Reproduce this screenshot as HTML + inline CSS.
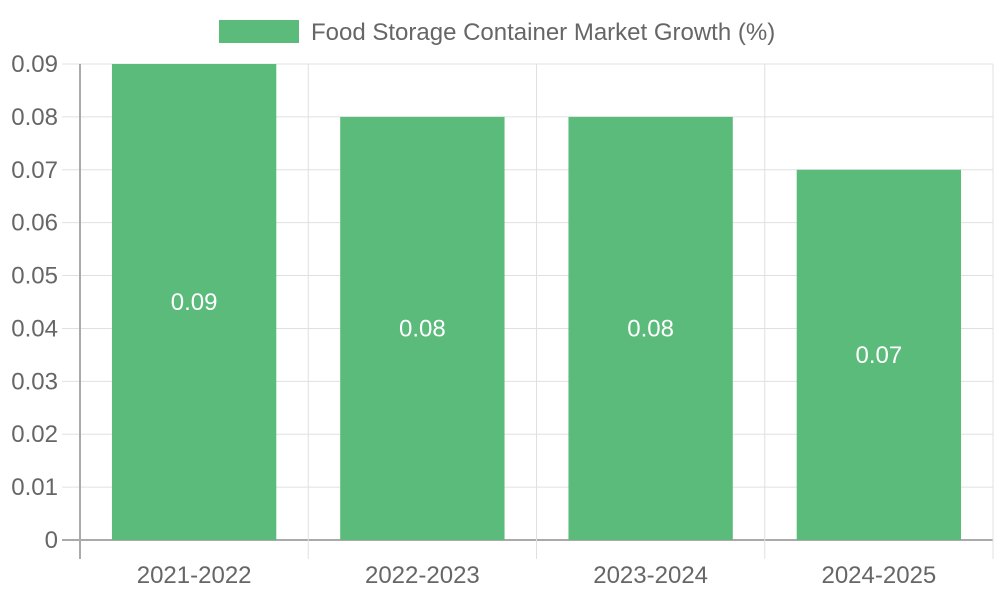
<!DOCTYPE html>
<html><head><meta charset="utf-8"><style>
html,body{margin:0;padding:0;background:#fff;}
svg{display:block;font-family:"Liberation Sans",sans-serif;}
</style></head><body>
<svg id="chart" width="1000" height="600">
  <g>
    <rect x="219" y="20" width="80" height="23" fill="#5bbb7b"/>
    <text x="311" y="40" font-size="24" fill="#666">Food Storage Container Market Growth (%)</text>
  </g>
  <g id="grid"></g>
  <g id="bars"></g>
  <g id="axes"></g>
</svg>
<script>
const categories = ["2021-2022","2022-2023","2023-2024","2024-2025"];
const growthValues = [0.09,0.08,0.08,0.07];
const yTicks = [0,0.01,0.02,0.03,0.04,0.05,0.06,0.07,0.08,0.09];
const yTickLabels = ["0","0.01","0.02","0.03","0.04","0.05","0.06","0.07","0.08","0.09"];

const L=80,R=993,T=64,B=540,yMax=0.09;
const NS="http://www.w3.org/2000/svg";
const yScale=v=>B-(v/yMax)*(B-T);
const cw=(R-L)/categories.length;
const xCenter=i=>L+cw*(i+0.5);
function mk(tag,attrs,parent){const e=document.createElementNS(NS,tag);for(const k in attrs)e.setAttribute(k,attrs[k]);parent.appendChild(e);return e;}
const grid=document.getElementById('grid'),bars=document.getElementById('bars'),axes=document.getElementById('axes');

yTicks.forEach((t,i)=>{
  const y=yScale(t);
  const ln=mk('line',{x1:62,x2:R,y1:y,y2:y,stroke:t===0?'#aaa':'#e0e0e0','stroke-width':t===0?2:1},grid);
  
  
  const tx=mk('text',{x:58,y:y+8,'text-anchor':'end','font-size':24,fill:'#666'},axes);
  tx.textContent=yTickLabels[i];
  
  
});
for(let i=0;i<=categories.length;i++){
  const x=L+cw*i;
  const ln=mk('line',{x1:x,x2:x,y1:T,y2:559,stroke:i===0?'#aaa':'#e0e0e0','stroke-width':i===0?2:1},grid);
  
  
}
categories.forEach((c,i)=>{
  const bw=cw*0.72, x=xCenter(i)-bw/2, y=yScale(growthValues[i]);
  const r=mk('rect',{x:x,y:y,width:bw,height:B-y,fill:'#5bbb7b'},bars);
  
  
  const v=mk('text',{x:xCenter(i),y:(y+B)/2+8,'text-anchor':'middle','font-size':24,fill:'#fff'},bars);
  v.textContent=String(growthValues[i]);
  
  
  const t=mk('text',{x:xCenter(i),y:583,'text-anchor':'middle','font-size':24,fill:'#666'},axes);
  t.textContent=c;
  
  
});
</script>
</body></html>
